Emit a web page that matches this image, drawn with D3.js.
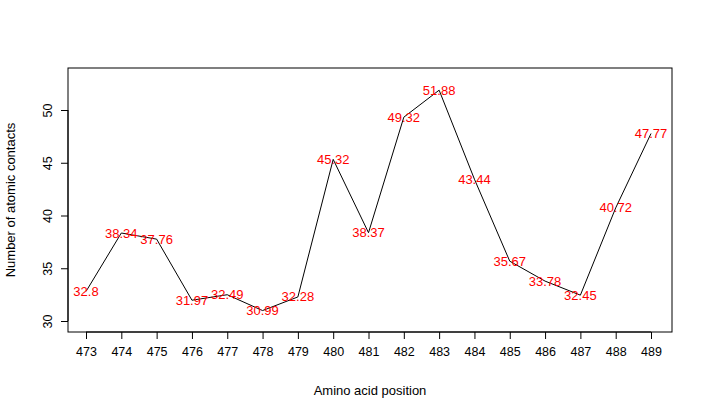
<!DOCTYPE html>
<html><head><meta charset="utf-8">
<script src="https://cdn.jsdelivr.net/npm/d3@7"></script>
<style>body{margin:0;background:#fff}text{font-family:"Liberation Sans",Arial,sans-serif}</style>
</head><body>
<svg id="chart" width="708" height="417"></svg>
<script>
var positions = [473,474,475,476,477,478,479,480,481,482,483,484,485,486,487,488,489];
var contacts = [32.8,38.34,37.76,31.97,32.49,30.99,32.28,45.32,38.37,49.32,51.88,43.44,35.67,33.78,32.45,40.72,47.77];
var yTicks = [30,35,40,45,50];

var svg = d3.select("#chart");
var x = d3.scaleLinear().domain([473,489]).range([86,651]);
var y = d3.scaleLinear().domain([30,50]).range([321,110]);

svg.append("rect").attr("x",68).attr("y",68).attr("width",604).attr("height",264)
    .attr("fill","none").attr("stroke","black");

var line = d3.line().x(function(d,i){ return x(positions[i]); }).y(function(d){ return y(d); });
svg.append("path").datum(contacts).attr("d",line).attr("fill","none").attr("stroke","black");

svg.selectAll(".lab").data(contacts).enter().append("text")
    .attr("x",function(d,i){ return x(positions[i]); })
    .attr("y",function(d){ return y(d); })
    .attr("dy","0.35em").attr("text-anchor","middle")
    .attr("fill","red").attr("font-size",13)
    .text(function(d){ return d; });

var xa = svg.append("g").attr("transform","translate(0,332)")
    .call(d3.axisBottom(x).tickValues(positions).tickSize(7).tickPadding(8).tickFormat(d3.format("d")));
xa.select(".domain").attr("d","M"+x(473)+",0H"+x(489));
xa.selectAll("text").attr("font-size",12.5).attr("font-family","Liberation Sans, Arial, sans-serif");

var ya = svg.append("g").attr("transform","translate(68,0)")
    .call(d3.axisLeft(y).tickValues(yTicks).tickSize(7));
ya.select(".domain").attr("d","M0,"+y(30)+"V"+y(50));
ya.selectAll("text").attr("font-size",12.5).attr("font-family","Liberation Sans, Arial, sans-serif")
    .attr("text-anchor","middle").attr("dy",0)
    .attr("x",-16).attr("y",0)
    .attr("transform","rotate(-90,-16,0)");

svg.append("text").attr("x",370).attr("y",395).attr("text-anchor","middle").attr("font-size",13)
    .text("Amino acid position");
svg.append("text").attr("transform","translate(15,200) rotate(-90)").attr("text-anchor","middle")
    .attr("font-size",13).text("Number of atomic contacts");
</script>
</body></html>
